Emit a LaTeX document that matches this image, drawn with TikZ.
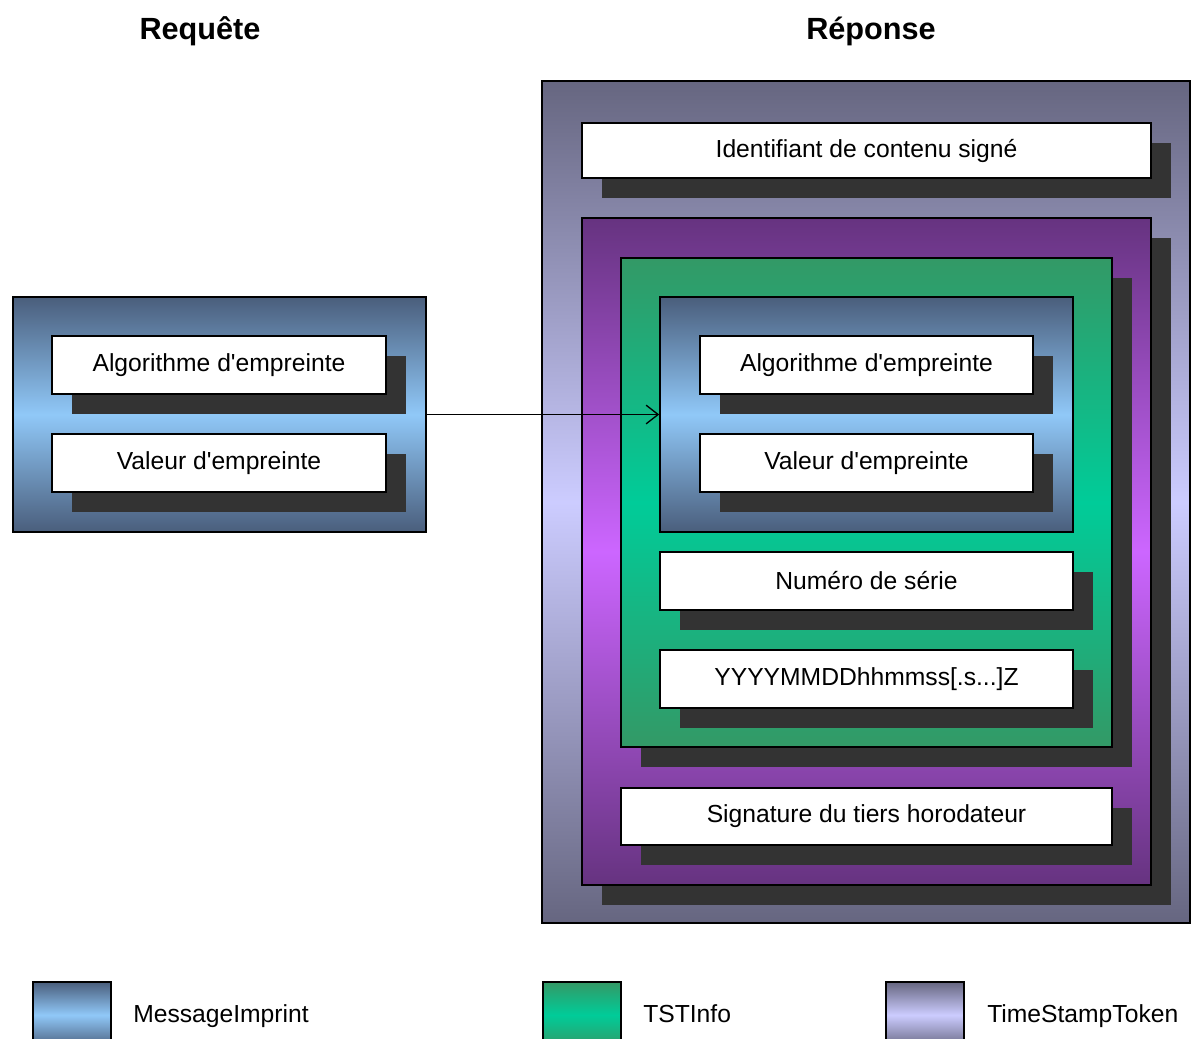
\documentclass[tikz,border=0pt]{standalone}
\usepackage{fontspec}
\setmainfont{Liberation Sans}[Ligatures=TeXOff]
\usetikzlibrary{shadows,arrows.meta}
\definecolor{miD}{HTML}{4A5E7C}
\definecolor{miL}{HTML}{90C8F8}
\definecolor{tsD}{HTML}{339966}
\definecolor{tsL}{HTML}{00CC99}
\definecolor{tkD}{HTML}{666680}
\definecolor{tkL}{HTML}{CCCCFF}
\definecolor{puD}{HTML}{663380}
\definecolor{puL}{HTML}{CC66FF}
\definecolor{shd}{HTML}{333333}
\tikzset{
  frame/.style={draw=black, line width=1.2pt, inner sep=0pt},
  shad/.style={drop shadow={shadow xshift=15pt, shadow yshift=-15pt, fill=shd, opacity=1}},
  field/.style={frame, fill=white, shad, font=\fontsize{18.5}{20}\selectfont},
  mibox/.style={frame, top color=miD, bottom color=miD, middle color=miL},
  tsbox/.style={frame, top color=tsD, bottom color=tsD, middle color=tsL},
  tkbox/.style={frame, top color=tkD, bottom color=tkD, middle color=tkL},
  pubox/.style={frame, top color=puD, bottom color=puD, middle color=puL},
  title/.style={font=\bfseries\fontsize{23}{26}\selectfont},
  legtext/.style={anchor=base west, inner sep=0pt, font=\fontsize{18.5}{20}\selectfont},
}
\newcommand\bx[7]{%
  \pgfmathsetmacro\bw{(#4-#2)*0.75}\pgfmathsetmacro\bh{(#5-#3)*0.75}%
  \node[#6, minimum width=\bw pt, minimum height=\bh pt] (#1) at ({(#2+#4)/2},{(#3+#5)/2}) {#7};}
\begin{document}
\begin{tikzpicture}[x=0.75pt, y=-0.75pt]
\useasboundingbox (0,0) rectangle (1197,1039);
\clip (0,0) rectangle (1197,1039);
% titles
\node[title] (treq) at (200,31) {Requête};
\node[title] (trep) at (871,31) {Réponse};
% request
\bx{mi}{13}{297}{426}{532}{mibox}{}
\bx{alg}{52}{336}{386}{394}{field}{Algorithme d'empreinte}
\bx{val}{52}{434}{386}{492}{field}{Valeur d'empreinte}
% response
\bx{tok}{542}{81}{1190}{923}{tkbox}{}
\bx{idc}{582}{123}{1151}{178}{field}{Identifiant de contenu signé}
\bx{sd}{582}{218}{1151}{885}{pubox,shad}{}
\bx{tst}{621}{258}{1112}{747}{tsbox,shad}{}
\bx{mi2}{660}{297}{1073}{532}{mibox}{}
\bx{alg2}{700}{336}{1033}{394}{field}{Algorithme d'empreinte}
\bx{val2}{700}{434}{1033}{492}{field}{Valeur d'empreinte}
\bx{ser}{660}{552}{1073}{610}{field}{Numéro de série}
\bx{tim}{660}{650}{1073}{708}{field}{YYYYMMDDhhmmss[.s...]Z}
\bx{sig}{621}{788}{1112}{845}{field}{Signature du tiers horodateur}
% arrow
\draw[line width=1pt, -{Straight Barb[length=9pt,width=14pt,line width=1pt]}] (mi.east) -- (mi2.west);
% legend
\bx{lg1}{33}{982}{111}{1048}{mibox}{}
\bx{lg2}{543}{982}{621}{1048}{tsbox}{}
\bx{lg3}{886}{982}{964}{1048}{tkbox}{}
\node[legtext] (lt1) at (133,1022) {MessageImprint};
\node[legtext] (lt2) at (643,1022) {TSTInfo};
\node[legtext] (lt3) at (987,1022) {TimeStampToken};
\end{tikzpicture}
\end{document}
